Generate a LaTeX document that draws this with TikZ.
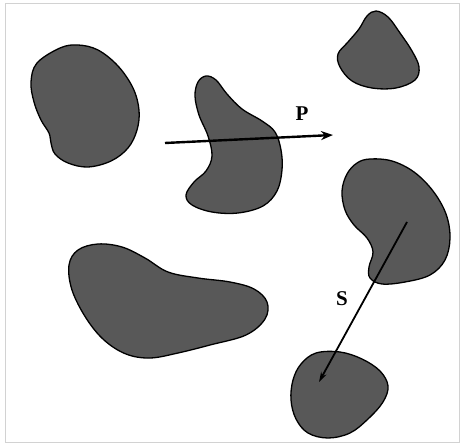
\documentclass[tikz,border=0pt]{standalone}
\usepackage{fontspec}
\setmainfont{Liberation Serif}
\usetikzlibrary{arrows.meta}
\definecolor{blobfill}{RGB}{88,88,88}
\tikzset{
  blob/.style={fill=blobfill, draw=black, line width=1.3pt},
  motion/.style={draw=black, line width=2.4pt},
  lbl/.style={font={\bfseries\fontsize{21}{21}\selectfont}, inner sep=0pt}
}
\begin{document}
\begin{tikzpicture}[x=1pt,y=-1pt]
\useasboundingbox (0,0) rectangle (460,446);
\draw[gray!35, line width=0.8pt] (5,3) rectangle (459,442);
% blob 1 top-left kidney
\draw[blob] plot[smooth cycle, tension=0.6] coordinates {
 (60,48) (78,45) (98,50) (118,66) (133,88) (139,110) (137,130) (128,148) (111,161)
 (88,167) (68,163) (55,154) (51,143) (49,133) (41,120) (34,102) (31,82) (37,63)};
% blob 2 central boomerang
\draw[blob] plot[smooth cycle, tension=0.6] coordinates {
 (206,76) (216,80) (227,94) (242,109) (262,121) (275,132) (281,150) (282,170)
 (277,191) (263,206) (238,213) (212,212) (192,205) (186,195) (194,182)
 (206,171) (212,156) (208,136) (199,115) (195,96) (198,82)};
% blob 3 top-right small
\draw[blob] plot[smooth cycle, tension=0.6] coordinates {
 (376,11) (388,17) (400,33) (412,51) (419,67) (415,80) (396,88)
 (372,88) (352,81) (340,67) (338,54) (348,42) (359,29) (367,16)};
% blob 4 right kidney
\draw[blob] plot[smooth cycle, tension=0.6] coordinates {
 (370,159) (392,161) (414,172) (433,191) (446,214) (450,238) (445,260)
 (430,275) (405,282) (382,284) (370,278) (369,267) (373,252) (367,238)
 (354,225) (345,210) (342,191) (347,174) (357,163)};
% blob 5 bottom-left large
\draw[blob] plot[smooth cycle, tension=0.6] coordinates {
 (78,250) (98,244) (122,247) (145,258) (168,272) (198,278) (230,282)
 (254,289) (267,302) (265,319) (246,335) (210,345) (178,353) (150,358)
 (126,354) (104,340) (86,318) (72,290) (69,265)};
% blob 6 bottom-right
\draw[blob] plot[smooth cycle, tension=0.6] coordinates {
 (316,353) (340,352) (362,359) (380,371) (388,386) (383,402) (368,419)
 (350,433) (328,438) (308,433) (296,419) (291,400) (293,380) (301,364)};
% arrows
\coordinate (p0) at (165,143);
\coordinate (p1) at (333,135);
\coordinate (s0) at (407,222);
\coordinate (s1) at (319,382);
\draw[motion, -{Stealth[length=12pt,width=9pt]}] (p0) -- (p1);
\draw[motion, line width=1.8pt, -{Stealth[length=10pt,width=6pt]}] (s0) -- (s1);
\node[lbl] (P) at (302,114) {P};
\node[lbl] (S) at (342,299) {S};
\end{tikzpicture}
\end{document}
